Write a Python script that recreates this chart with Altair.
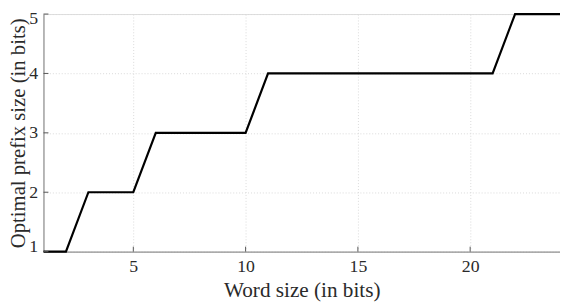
import altair as alt
import pandas as pd

word_bits = [1, 2, 3, 5, 6, 10, 11, 21, 22, 24]
prefix_bits = [1, 1, 2, 2, 3, 3, 4, 4, 5, 5]
x_ticks = [5, 10, 15, 20]
y_ticks = [1, 2, 3, 4, 5]

df = pd.DataFrame({"x": word_bits, "y": prefix_bits})
xt = pd.DataFrame({"x": x_ticks})
yt = pd.DataFrame({"y": y_ticks})

FONT = "Liberation Serif"
W, H = 524, 241

xscale = alt.Scale(domain=[1, 24], nice=False, zero=False)
yscale = alt.Scale(domain=[1, 5], nice=False, zero=False)
xaxis = alt.Axis(values=x_ticks, format="d", tickSize=0, labelPadding=6,
                 titlePadding=5, grid=True, titleFontSize=21.5)
yaxis = alt.Axis(values=y_ticks, format="d", tickSize=0, labelPadding=6,
                 titlePadding=0, grid=True, labelFlush=True, labelFlushOffset=4,
                 titleFontSize=21)
XT = "Word size (in bits)"
YT = "Optimal prefix size (in bits)"

line = alt.Chart(df).mark_line(color="black", strokeWidth=2.2).encode(
    x=alt.X("x:Q", scale=xscale, title=XT, axis=xaxis),
    y=alt.Y("y:Q", scale=yscale, title=YT, axis=yaxis),
)

xtick_marks = alt.Chart(xt).mark_rule(color="#555555", strokeWidth=1).encode(
    x=alt.X("x:Q", scale=xscale, title=XT, axis=xaxis),
    y=alt.value(H),
    y2=alt.value(H - 5),
)
ytick_marks = alt.Chart(yt).mark_rule(color="#555555", strokeWidth=1).encode(
    y=alt.Y("y:Q", scale=yscale, title=YT, axis=yaxis),
    x=alt.value(0),
    x2=alt.value(5),
)

chart = alt.layer(line, xtick_marks, ytick_marks).properties(
    width=W, height=H,
    autosize=alt.AutoSizeParams(type="none"),
    padding={"left": 36, "top": 4, "right": 0, "bottom": 51},
).configure_view(stroke=None).configure(background="white").configure_axis(
    labelFont=FONT, titleFont=FONT, labelFontSize=18,
    titleFontWeight="normal", labelColor="#2a2a2a", titleColor="#2a2a2a",
    gridDash=[1, 2], gridColor="#d9d9d9", domainColor="#808080",
)

chart.save("out.html", embed_options={"renderer": "svg", "actions": False})
